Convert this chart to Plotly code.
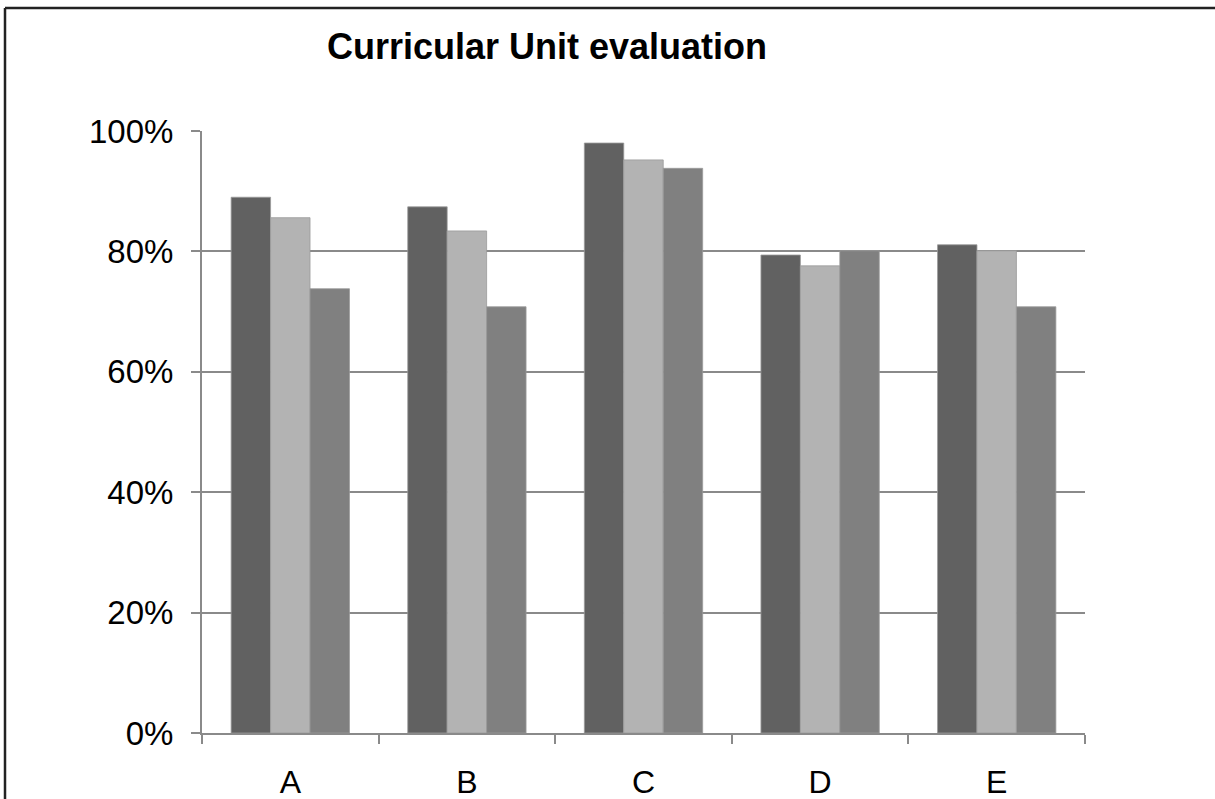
import plotly.graph_objects as go

categories = ["A", "B", "C", "D", "E"]
series1 = [0.89, 0.874, 0.98, 0.794, 0.811]
series2 = [0.856, 0.834, 0.952, 0.776, 0.801]
series3 = [0.738, 0.708, 0.938, 0.801, 0.708]
colors = ["#616161", "#b3b3b3", "#808080"]
tick_vals = [0, 0.2, 0.4, 0.6, 0.8, 1.0]
tick_text = ["0%", "20%", "40%", "60%", "80%", "100%"]

W, H = 1215, 799
L, R, T, B = 202, 130, 131, 66
pw, ph = W - L - R, H - T - B

fig = go.Figure()
for vals, col in zip([series1, series2, series3], colors):
    fig.add_trace(go.Bar(x=categories, y=vals, marker=dict(color=col, line=dict(width=0.8, color="#9a9a9a")),
                         showlegend=False))

def px_x(p):
    return (p - L) / pw

def px_y(p):
    return (H - B - p) / ph

border = dict(color="#222222", width=2.5)
fig.update_layout(
    width=W, height=H,
    margin=dict(l=L, r=R, t=T, b=B),
    paper_bgcolor="white", plot_bgcolor="white",
    barmode="group", bargap=0.33, bargroupgap=0,
    font=dict(family="Liberation Sans, Arial, sans-serif", color="black"),
    title=dict(text="<b>Curricular Unit evaluation</b>", font=dict(size=36, color="black"),
               xref="container", yref="container", x=547 / W, xanchor="center",
               y=1 - 46 / H, yanchor="middle"),
    xaxis=dict(showline=True, linecolor="#8a8a8a", linewidth=2, ticks="outside", tickson="boundaries",
               ticklen=9, tickwidth=2, tickcolor="#8a8a8a", tickfont=dict(size=32),
               ticklabelstandoff=20, showgrid=False, automargin=False),
    yaxis=dict(range=[0, 1.0], tickvals=tick_vals, ticktext=tick_text, showline=True,
               linecolor="#8a8a8a", linewidth=2, ticks="outside", ticklen=9, tickwidth=2,
               tickcolor="#8a8a8a", tickfont=dict(size=33), ticklabelstandoff=11,
               showgrid=True, gridcolor="#8a8a8a", gridwidth=2, zeroline=False, automargin=False),
    shapes=[
        dict(type="line", xref="paper", yref="paper", x0=px_x(5), x1=px_x(1215),
             y0=px_y(8), y1=px_y(8), line=border, layer="below"),
        dict(type="line", xref="paper", yref="paper", x0=px_x(5), x1=px_x(5),
             y0=px_y(8), y1=px_y(799), line=border, layer="below"),
    ],
)

fig.write_html("out.html", config={"displayModeBar": False},
               post_script="document.documentElement.style.overflow='hidden';"
                           "document.body.style.margin='0';document.body.style.overflow='hidden';")
